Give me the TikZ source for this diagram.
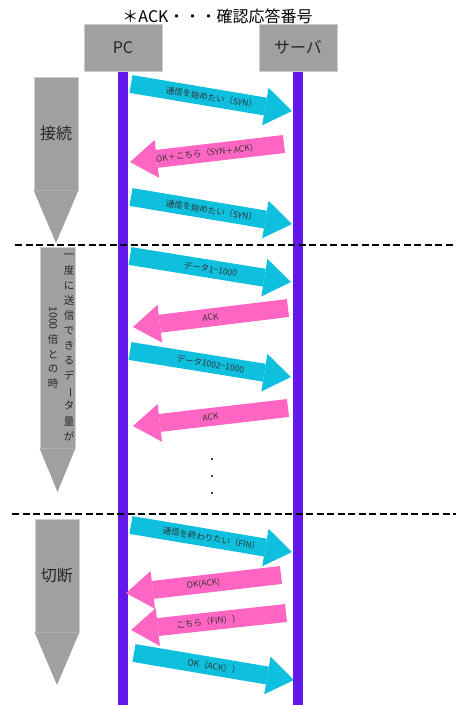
\documentclass[tikz,border=0pt]{standalone}
\usepackage{fontspec}
\setmainfont{Noto Sans CJK JP}
\usetikzlibrary{arrows.meta}

\definecolor{lila}{RGB}{98,24,232}
\definecolor{celeste}{RGB}{14,192,222}
\definecolor{rosa}{RGB}{255,102,196}
\definecolor{gris}{RGB}{160,160,160}
\definecolor{grisclaro}{RGB}{205,205,205}

\begin{document}
\begin{tikzpicture}[x=1pt, y=-1pt,
  caja/.style={draw=grisclaro, fill=gris, line width=1pt, minimum width=78pt, minimum height=47pt, font=\fontsize{16}{18}\selectfont, text=black!85},
  linea/.style={line width=10pt, lila},
  fase/.style={draw=grisclaro, fill=gris, line width=0.8pt, inner sep=0pt, font=\fontsize{16}{18}\selectfont, text=black!85},
  vertical/.style={align=center, inner sep=0pt, font=\fontsize{10.5}{15.1}\selectfont, text=black!85},
  msgida/.style={line width=18pt, celeste, -{Triangle[length=27pt,width=38pt,line width=0pt]}},
  msgvuelta/.style={line width=18pt, rosa, -{Triangle[length=27pt,width=38pt,line width=0pt]}},
  etiqueta/.style={midway, sloped, font=\fontsize{8.5}{10}\selectfont, text=black!80},
  corte/.style={line width=2.5pt, dash pattern=on 7pt off 3.5pt}]

\useasboundingbox (0,0) rectangle (456,705);

% Título
\node (titulo) at (217.5,16) {\fontsize{16}{18}\selectfont ＊ACK・・・確認応答番号};

% Participantes
\node[caja] (pc) at (123,47.5) {PC};
\node[caja] (server) at (298,47.5) {サーバ};

% Líneas de vida
\coordinate (pcfin) at (123,705);
\coordinate (serverfin) at (298,705);
\draw[linea] (pc.south) -- (pcfin);
\draw[linea] (server.south) -- (serverfin);

% Fases a la izquierda
\node[fase, minimum width=44pt, minimum height=113pt] (conexion) at (56,133.5) {接続};
\coordinate (conexionpunta) at (56,243);
\fill[gris] (conexion.south west) -- (conexion.south east) -- (conexionpunta) -- cycle;

\node[fase, minimum width=35pt, minimum height=201pt] (datos) at (57.5,347.5) {};
\coordinate (datospunta) at (57.5,492);
\fill[gris] (datos.south west) -- (datos.south east) -- (datospunta) -- cycle;
\node[vertical] (colA) at (69,347.5) {一\\度\\に\\送\\信\\で\\き\\る\\デ\\\rotatebox[origin=c]{-90}{ー}\\タ\\量\\が};
\node[vertical, rotate=-90] (colB) at (53,318) {1000};
\node[vertical, font=\fontsize{10.5}{14.5}\selectfont] (colC) at (53,361.5) {倍\\と\\の\\時};

\node[fase, minimum width=44pt, minimum height=113pt] (corte) at (57,575.5) {切断};
\coordinate (cortepunta) at (57,685);
\fill[gris] (corte.south west) -- (corte.south east) -- (cortepunta) -- cycle;

% Separadores
\coordinate (sepA1) at (15,245);
\coordinate (sepA2) at (456,245);
\coordinate (sepB1) at (12,514);
\coordinate (sepB2) at (456,514);
\draw[corte] (sepA1) -- (sepA2);
\draw[corte] (sepB1) -- (sepB2);

% Extremos de los mensajes
\coordinate (pc1) at (131,84);   \coordinate (sv1) at (292,111);
\coordinate (sv2) at (284,144);  \coordinate (pc2) at (130,162);
\coordinate (pc3) at (131,197);  \coordinate (sv3) at (292,224);
\coordinate (pc4) at (130,256);  \coordinate (sv4) at (291,282);
\coordinate (sv5) at (288,308);  \coordinate (pc5) at (133,327);
\coordinate (pc6) at (130,351);  \coordinate (sv6) at (291,377);
\coordinate (sv7) at (288,408);  \coordinate (pc7) at (133,426);
\coordinate (pc8) at (131,525);  \coordinate (sv8) at (292,552);
\coordinate (sv9) at (281,575);  \coordinate (pc9) at (126,593);
\coordinate (sv10) at (286,613); \coordinate (pc10) at (131,630);
\coordinate (pc11) at (134,653); \coordinate (sv11) at (294,680);

% Conexión
\draw[msgida] (pc1) -- (sv1) node[etiqueta] {通信を始めたい（SYN）};
\draw[msgvuelta] (sv2) -- (pc2) node[etiqueta] {OK＋こちら（SYN＋ACK）};
\draw[msgida] (pc3) -- (sv3) node[etiqueta] {通信を始めたい（SYN）};

% Envío de datos
\draw[msgida] (pc4) -- (sv4) node[etiqueta] {データ1\textasciitilde1000};
\draw[msgvuelta] (sv5) -- (pc5) node[etiqueta] {ACK};
\draw[msgida] (pc6) -- (sv6) node[etiqueta] {データ1002\textasciitilde1000};
\draw[msgvuelta] (sv7) -- (pc7) node[etiqueta] {ACK};

% Puntos suspensivos
\foreach \y in {459,476,493}
  \fill (212,\y) circle (1.1pt);

% Desconexión
\draw[msgida] (pc8) -- (sv8) node[etiqueta] {通信を終わりたい（FIN）};
\draw[msgvuelta] (sv9) -- (pc9) node[etiqueta] {OK(ACK)};
\draw[msgvuelta] (sv10) -- (pc10) node[etiqueta] {こちら（FIN））};
\draw[msgida] (pc11) -- (sv11) node[etiqueta] {OK（ACK））};
\end{tikzpicture}
\end{document}
